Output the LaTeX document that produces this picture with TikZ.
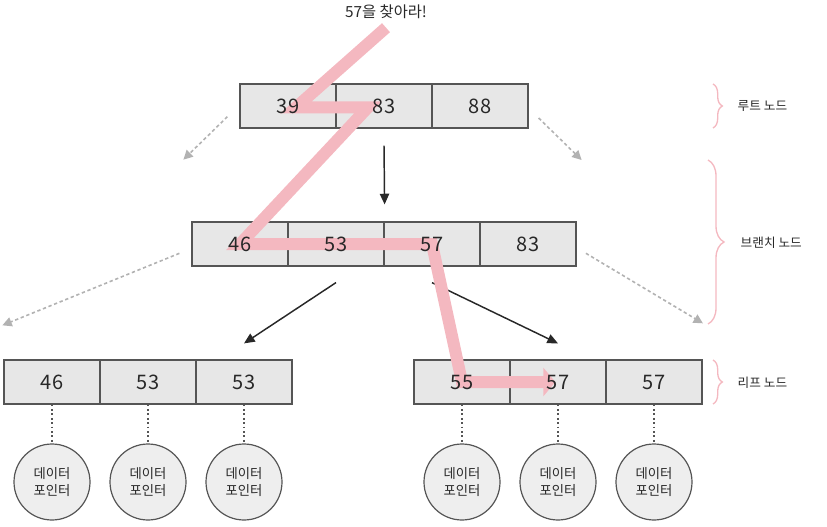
\documentclass[tikz,border=0pt]{standalone}
\usepackage{fontspec}
\setmainfont{Noto Sans CJK KR}
\usetikzlibrary{arrows,arrows.meta,shapes,positioning,decorations.pathreplacing}
\definecolor{trail}{RGB}{244,184,192}
\definecolor{cellgray}{RGB}{231,231,231}
\definecolor{edge}{RGB}{85,85,85}
\definecolor{ink}{RGB}{40,40,40}

\begin{document}
\begin{tikzpicture}[x=0.75pt, y=-0.75pt,
    cell/.style={rectangle, draw=edge, fill=cellgray, line width=0.9pt, minimum width=72pt, minimum height=33pt, inner sep=0pt},
    num/.style={font=\fontsize{15}{17}\selectfont, text=ink},
    ptr/.style={circle, draw=edge, fill=cellgray!70, line width=0.9pt, minimum size=57pt, inner sep=0pt, align=center, font=\fontsize{10}{13}\selectfont, text=ink},
    link/.style={dotted, line width=1.3pt, draw=edge},
    hint/.style={dash pattern=on 2.5pt off 2pt, line width=1.2pt, draw=gray!60, -{Triangle[length=7pt,width=7pt]}},
    solidarrow/.style={line width=1.1pt, draw=ink, -{Triangle[length=8pt,width=7pt]}},
    sidebrace/.style={draw=trail, line width=1pt, decorate, decoration={brace, amplitude=#1}},
    lbl/.style={anchor=west, font=\fontsize{9.5}{11}\selectfont, text=ink}]
    \useasboundingbox (0,0) rectangle (827,527);

    % Title
    \node[font=\fontsize{11.5}{13}\selectfont, text=ink] (title) at (386,12) {57을 찾아라!};

    % Root node
    \node[cell] (root1) at (288,106) {};
    \node[cell] (root2) at (384,106) {};
    \node[cell] (root3) at (480,106) {};

    % Branch node
    \node[cell] (branch1) at (240,244) {};
    \node[cell] (branch2) at (336,244) {};
    \node[cell] (branch3) at (432,244) {};
    \node[cell] (branch4) at (528,244) {};

    % Leaf nodes
    \node[cell] (lleaf1) at (52,382) {};
    \node[cell] (lleaf2) at (148,382) {};
    \node[cell] (lleaf3) at (244,382) {};
    \node[cell] (rleaf1) at (462,382) {};
    \node[cell] (rleaf2) at (558,382) {};
    \node[cell] (rleaf3) at (654,382) {};

    % Data pointers
    \foreach \c in {lleaf1,lleaf2,lleaf3,rleaf1,rleaf2,rleaf3} {
        \node[ptr] (\c-ptr) at ([yshift=-75pt]\c) {데이터\\포인터};
        \draw[link] (\c.south) -- (\c-ptr.north);
    }

    % Arrows
    \draw[solidarrow] ([yshift=-12.75pt]root2.south) -- ([yshift=12.75pt]branch2.north east);
    \draw[solidarrow] ([yshift=-12pt]branch2.south) -- ([yshift=12pt]lleaf3.north);
    \draw[solidarrow] ([yshift=-12pt]branch3.south) -- ([yshift=12pt]rleaf2.north);
    \draw[hint] ([xshift=-9pt,yshift=-8pt]root1.west) -- ++(-44,43);
    \draw[hint] ([xshift=7.5pt,yshift=-9pt]root3.east) -- ++(43,42);
    \draw[hint] ([xshift=-9pt,yshift=-7pt]branch1.west) -- ++(-177,72);
    \draw[hint] ([xshift=7pt,yshift=-7pt]branch4.east) -- ++(117,70);

    % Search path
    \draw[line width=9pt, draw=trail, -{Triangle[length=9pt,width=21pt]}] ([yshift=-3pt]title.south) -- ([xshift=6pt,yshift=-1pt]root1.center) -- ([xshift=-12pt,yshift=-1pt]root2.center) -- (branch1.center) -- (branch3.center) -- (rleaf1.center) -- ([xshift=-2pt]rleaf2.center);

    % Keys
    \foreach \c/\v in {root1/39, root2/83, root3/88, branch1/46, branch2/53, branch3/57, branch4/83, lleaf1/46, lleaf2/53, lleaf3/53, rleaf1/55, rleaf2/57, rleaf3/57}
        \node[num] (\c-val) at (\c) {\v};

    % Levels
    \draw[sidebrace=7pt] (713,84) -- (713,128);
    \node[lbl] (rootlbl) at (733,106) {루트 노드};
    \draw[sidebrace=12pt] (708,160) -- (708,324);
    \node[lbl] (branchlbl) at (736,243) {브랜치 노드};
    \draw[sidebrace=7pt] (713,360) -- (713,404);
    \node[lbl] (leaflbl) at (733,383) {리프 노드};
\end{tikzpicture}
\end{document}
